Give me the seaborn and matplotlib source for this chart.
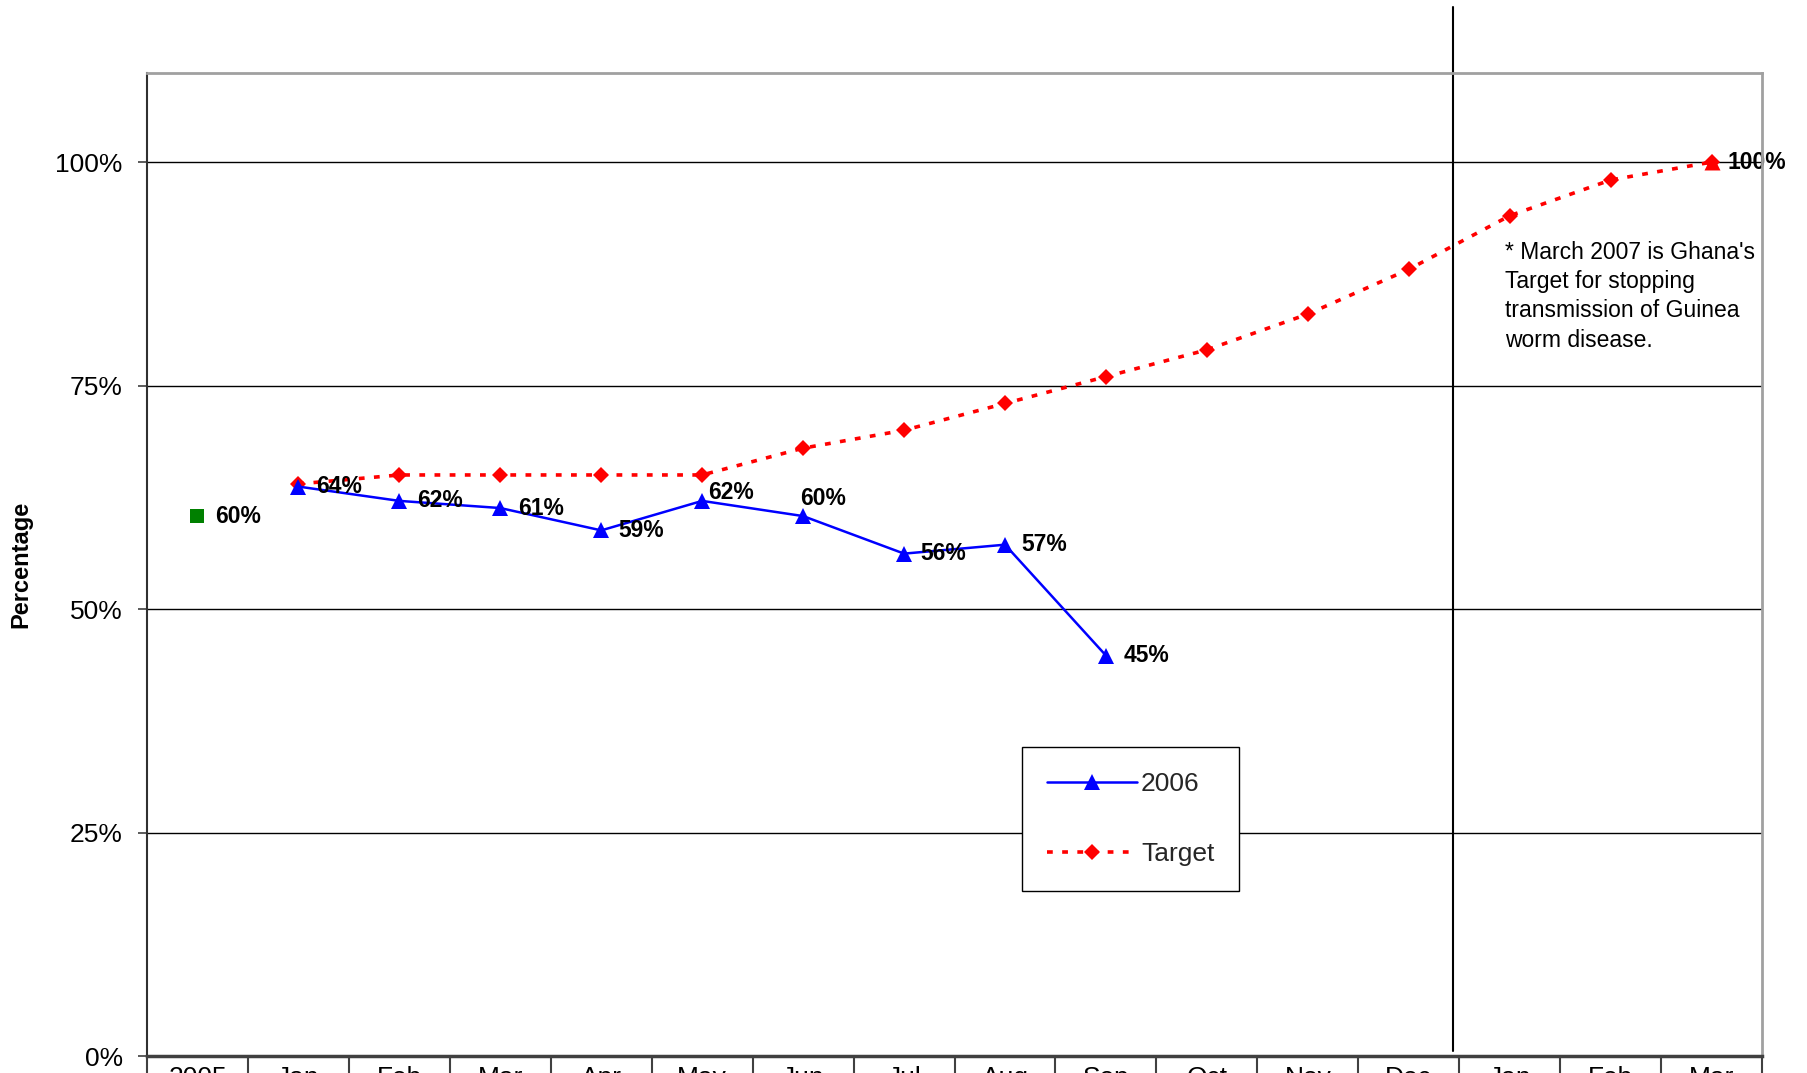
import numpy as np
import pandas as pd
import matplotlib
matplotlib.use("Agg")
import matplotlib.pyplot as plt
import seaborn as sns
from matplotlib.ticker import FuncFormatter

# ---- data -------------------------------------------------------------
categories = ["2005", "Jan", "Feb", "Mar", "Apr", "May", "Jun", "Jul", "Aug",
              "Sep", "Oct", "Nov", "Dec", "Jan", "Feb", "Mar"]
baseline_2005 = [60.4]
rate_2006 = [63.7, 62.1, 61.3, 58.8, 62.1, 60.4, 56.2, 57.2, 44.8]          # Jan-Sep 2006
target = [64, 65, 65, 65, 65, 68, 70, 73, 76, 79, 83, 88, 94, 98, 100]      # Jan 2006 - Mar 2007
goal_mar_2007 = [100]
y_ticks = [0, 25, 50, 75, 100]
note = "* March 2007 is Ghana's\nTarget for stopping\ntransmission of Guinea\nworm disease."

# label nudges (points) for the 2006 series
label_offsets_2006 = [(12.5, 0), (12.5, 0), (12.5, 0), (12.5, 0), (4.5, 6),
                      (-2.5, 13), (11.5, 0), (11.5, 0), (12.5, 0)]

# ---- style ------------------------------------------------------------
sns.set_theme(style="white")
plt.rcParams["font.family"] = ["Liberation Sans", "DejaVu Sans"]

RED, BLUE, GREEN = "#ff0000", "#0000ff", "#008000"

pos = np.arange(len(categories))
df_base = pd.DataFrame({"x": pos[:1], "y": baseline_2005})
df_2006 = pd.DataFrame({"x": pos[1:1 + len(rate_2006)], "y": rate_2006})
df_target = pd.DataFrame({"x": pos[1:1 + len(target)], "y": target})
df_goal = pd.DataFrame({"x": pos[-1:], "y": goal_mar_2007})

fig = plt.figure(figsize=(18.08, 10.73), dpi=100)
ax = fig.add_axes([0.0813, 0.01584, 0.8933, 0.9164])

# ---- series -----------------------------------------------------------
sns.lineplot(data=df_target, x="x", y="y", ax=ax, color=RED, lw=2.6,
             linestyle=(0, (1.6, 2.6)), marker="D", ms=8.3, mec=RED, mew=0,
             label="Target", zorder=3)
sns.lineplot(data=df_2006, x="x", y="y", ax=ax, color=BLUE, lw=1.8,
             marker="^", ms=11.5, mec=BLUE, mew=0, label="2006", zorder=4)
sns.scatterplot(data=df_goal, x="x", y="y", ax=ax, color=RED, marker="^",
                s=11.5 ** 2, linewidth=0, zorder=4)
sns.scatterplot(data=df_base, x="x", y="y", ax=ax, color=GREEN, marker="s",
                s=10 ** 2, linewidth=0, zorder=4)

# ---- value labels -----------------------------------------------------
lab_kw = dict(textcoords="offset points", ha="left", va="center",
              fontsize=16.5, fontweight="bold", color="black")
ax.annotate(f"{baseline_2005[0]:.0f}%", (df_base.x[0], df_base.y[0]),
            xytext=(12.5, 0), zorder=5, **lab_kw)
for (x, y), off in zip(df_2006[["x", "y"]].values, label_offsets_2006):
    ax.annotate(f"{y:.0f}%", (x, y), xytext=off, zorder=5, **lab_kw)
ax.annotate(f"{goal_mar_2007[0]:.0f}%", (df_goal.x[0], df_goal.y[0]),
            xytext=(11.5, 0), zorder=0.4, **lab_kw)

# ---- note and divider between 2006 and 2007 ----------------------------
ax.text(12.95, 91.2, note, ha="left", va="top", fontsize=16.5,
        linespacing=1.35, color="black")
ax.axvline(12.44, ymin=0.005, ymax=1.067, color="black", lw=1.5,
           clip_on=False, zorder=2)

# ---- axes ---------------------------------------------------------------
ax.set_xlim(-0.5, 15.5)
ax.set_ylim(0, 110)
ax.set_xticks(pos)
ax.set_xticklabels(categories)
ax.set_xticks(np.arange(-0.5, len(categories), 1.0), minor=True)
ax.tick_params(axis="x", which="major", bottom=True, length=0, pad=7,
               labelsize=19, labelcolor="black")
ax.tick_params(axis="x", which="minor", bottom=True, length=30, width=1.5,
               color="#404040", direction="out")
ax.set_yticks(y_ticks)
ax.yaxis.set_major_formatter(FuncFormatter(lambda v, _: f"{v:.0f}%"))
ax.tick_params(axis="y", left=True, length=6.5, width=1.2, color="#404040",
               pad=11, labelsize=19, labelcolor="black")

ax.grid(axis="y", color="black", lw=1)
ax.grid(axis="x", visible=False)
ax.set_axisbelow(True)

ax.spines["left"].set_color("#303030")
ax.spines["left"].set_linewidth(1.5)
ax.spines["bottom"].set_color("#404040")
ax.spines["bottom"].set_linewidth(2.5)
for side in ("top", "right"):
    ax.spines[side].set_color("#a0a0a0")
    ax.spines[side].set_linewidth(2)

ax.set_xlabel("")
ax.set_ylabel("Percentage", fontsize=17, fontweight="bold", color="black")
ax.yaxis.set_label_coords(-0.0712, 0.5)

# ---- legend -------------------------------------------------------------
handles = {ln.get_label(): ln for ln in ax.lines}
leg = ax.legend(handles=[handles["2006"], handles["Target"]],
                labels=["2006", "Target"], loc="upper left",
                bbox_to_anchor=(0.5416, 0.3139), borderaxespad=0,
                fontsize=19, frameon=True, fancybox=False, framealpha=1,
                edgecolor="black", borderpad=0.95, labelspacing=1.72,
                handlelength=3.4, handletextpad=0.17)
leg.get_frame().set_linewidth(1)

fig.savefig("out.png", dpi=100, facecolor="white")
